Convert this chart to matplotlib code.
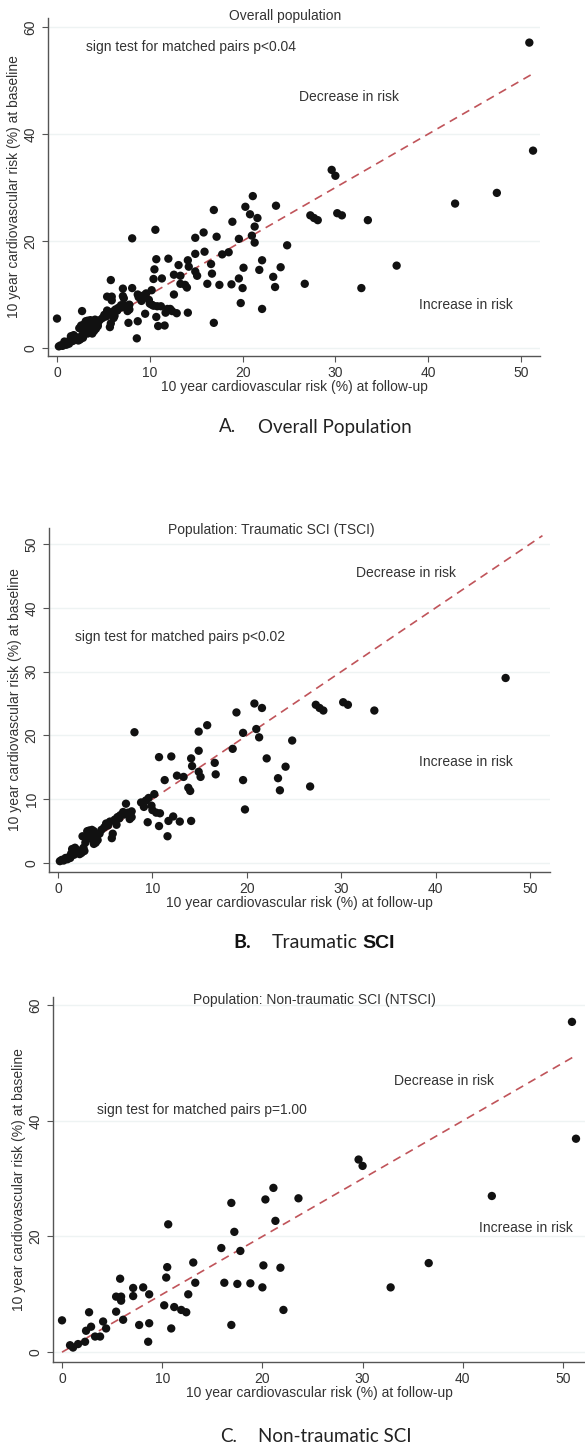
import numpy as np
import matplotlib
matplotlib.use("Agg")
import matplotlib.pyplot as plt

# traumatic SCI: (follow-up, baseline)
tsci_followup = [0.2, 0.4, 0.6, 0.8, 1.0, 1.2, 1.4, 1.5, 1.7, 1.9, 2.1, 2.3, 2.5, 2.7, 2.6, 2.9, 3.1, 3.3,
                 3.5, 3.6, 3.8, 4.0, 4.2, 4.4, 4.0,
                 1.3, 1.8, 2.2, 2.8, 3.0, 3.3, 3.8, 4.1, 4.6, 5.5, 6.2, 6.5, 7.0, 7.8, 8.8, 9.1,
                 4.9, 5.1, 5.3, 5.8, 5.7, 6.0, 6.3, 6.6, 6.9, 7.2, 7.4, 7.6, 7.8, 8.1,
                 9.3, 9.6, 9.9, 10.2, 10.0, 10.4, 10.8, 9.5, 10.7, 11.6, 11.7, 12.2, 12.9, 14.1, 10.7,
                 12.0, 11.3, 12.6, 13.3, 13.8, 14.0, 14.1, 14.2, 14.9, 15.8, 14.9, 14.9, 15.1, 16.6, 16.7,
                 18.5, 18.9, 19.6, 19.6, 19.8, 20.8, 21.6, 21.0, 21.3, 22.1, 23.3, 23.5, 24.1, 24.8, 26.7,
                 27.3, 27.7, 28.1, 30.2, 30.7, 33.5, 47.4]
tsci_baseline = [0.3, 0.5, 0.4, 0.8, 0.6, 1.0, 1.5, 2.2, 1.3, 1.8, 2.0, 1.4, 1.6, 2.4, 4.2, 3.2, 5.0, 4.6,
                 3.8, 5.2, 3.0, 4.2, 3.6, 4.6, 3.2,
                 0.8, 2.4, 1.6, 1.9, 4.2, 5.1, 5.0, 4.0, 5.2, 6.5, 6.0, 7.0, 7.6, 8.1, 9.5, 8.8,
                 5.6, 6.2, 5.9, 4.6, 3.9, 6.8, 7.2, 7.5, 8.0, 9.3, 7.9, 6.9, 7.2, 20.5,
                 9.8, 10.2, 9.0, 10.8, 8.3, 7.9, 7.8, 6.4, 5.8, 4.2, 6.6, 7.3, 6.5, 6.6, 16.6,
                 16.7, 13.0, 13.7, 13.5, 11.8, 11.3, 16.4, 15.2, 20.6, 21.6, 17.6, 14.3, 13.5, 15.7, 13.9,
                 17.9, 23.6, 20.4, 13.0, 8.4, 25.0, 24.3, 21.0, 19.7, 16.4, 13.3, 11.4, 15.1, 19.2, 12.0,
                 24.8, 24.3, 23.9, 25.2, 24.8, 23.9, 29.0]

# non-traumatic SCI
ntsci_followup = [0.0, 0.8, 1.1, 1.6, 2.3, 2.4, 2.7, 2.9, 3.3, 3.8, 4.1, 4.4, 5.4, 5.8, 5.9, 5.9, 5.4, 6.1,
                  7.1, 7.1, 8.1, 8.7, 7.7, 8.7, 8.6, 10.4, 10.5, 10.6, 10.2, 11.2, 11.9, 12.4, 10.9, 12.6,
                  13.1, 13.3, 15.9, 16.2, 16.9, 17.2, 16.9, 17.5, 17.8, 18.8, 20.0, 20.1, 20.3, 21.1, 21.3,
                  21.8, 22.1, 23.6, 29.6, 30.0, 32.8, 36.6, 42.9, 50.9, 51.3]
ntsci_baseline = [5.5, 1.2, 0.8, 1.4, 1.8, 3.7, 6.9, 4.4, 2.7, 2.7, 5.3, 4.1, 9.6, 12.7, 9.6, 8.9, 7.0, 5.6,
                  11.1, 9.7, 11.2, 10.0, 4.7, 5.0, 1.8, 12.9, 14.7, 22.1, 8.1, 7.8, 7.3, 6.9, 4.1, 10.0,
                  15.5, 12.0, 18.0, 12.0, 25.8, 20.8, 4.7, 11.8, 17.5, 11.9, 11.2, 15.0, 26.4, 28.4, 22.7,
                  14.6, 7.3, 26.6, 33.3, 32.2, 11.2, 15.4, 27.0, 57.1, 36.9]

all_followup = tsci_followup + ntsci_followup
all_baseline = tsci_baseline + ntsci_baseline

titles = ["Overall population", "Population: Traumatic SCI (TSCI)", "Population: Non-traumatic SCI (NTSCI)"]
notes = ["sign test for matched pairs p<0.04", "sign test for matched pairs p<0.02",
         "sign test for matched pairs p=1.00"]
xticks = [0, 10, 20, 30, 40, 50]
yticks_list = [[0, 20, 40, 60], [0, 10, 20, 30, 40, 50], [0, 20, 40, 60]]

W, H = 585, 1445
plt.rcParams['font.family'] = ['Liberation Sans', 'DejaVu Sans']
fig = plt.figure(figsize=(W / 100, H / 100), dpi=100)

dot = '#111111'
red = '#c0545a'
grey = '#555555'
txt = '#333333'

def box(l, r, t, b):
    return [l / W, 1 - b / H, (r - l) / W, (b - t) / H]

panels = [
    dict(rect=box(48, 540, 18, 356), x=all_followup, y=all_baseline, xlim=(-0.97, 52.05), ylim=(-1.5, 61.7),
         title=(285, 16), note=(86, 47), dec=(299, 97), inc=(419, 305)),
    dict(rect=box(49, 550, 528, 872), x=tsci_followup, y=tsci_baseline, xlim=(-0.95, 52.1), ylim=(-1.4, 52.5),
         title=(271, 530), note=(75, 637), dec=(356, 573), inc=(419, 762)),
    dict(rect=box(53, 585, 997, 1362), x=ntsci_followup, y=ntsci_baseline, xlim=(-0.9, 52.2), ylim=(-1.7, 61.4),
         title=(314, 1000), note=(97, 1110), dec=(394, 1081), inc=(479, 1228)),
]

line_end = max(all_followup)

for i, p in enumerate(panels):
    ax = fig.add_axes(p['rect'])
    ax.set_xlim(*p['xlim'])
    ax.set_ylim(*p['ylim'])
    ax.set_xticks(xticks)
    ax.set_yticks(yticks_list[i])
    for yt in yticks_list[i]:
        ax.axhline(yt, color='#eef3f3', lw=1, zorder=0)
    ax.plot([0, line_end], [0, line_end], color=red, lw=1.2, ls=(0, (5, 3.5)), zorder=2)
    ax.scatter(p['x'], p['y'], s=36, color=dot, edgecolors='none', zorder=3)
    for s in ['top', 'right']:
        ax.spines[s].set_visible(False)
    for s in ['left', 'bottom']:
        ax.spines[s].set_color(grey)
        ax.spines[s].set_linewidth(1)
    ax.tick_params(direction='out', length=4, color=grey, labelcolor=txt, labelsize=10)
    for lab in ax.get_yticklabels():
        lab.set_rotation(90)
        lab.set_va('center')
    ax.set_xlabel("10 year cardiovascular risk (%) at follow-up", fontsize=10, color=txt, labelpad=0)
    ax.set_ylabel("10 year cardiovascular risk (%) at baseline", fontsize=10, color=txt, labelpad=2)

    fig.text(p['title'][0] / W, 1 - p['title'][1] / H, titles[i], ha='center', va='center',
             fontsize=10, color=txt)
    fig.text(p['note'][0] / W, 1 - p['note'][1] / H, notes[i], ha='left', va='center',
             fontsize=10, color=txt)
    fig.text(p['dec'][0] / W, 1 - p['dec'][1] / H, "Decrease in risk", ha='left', va='center',
             fontsize=10, color=txt)
    fig.text(p['inc'][0] / W, 1 - p['inc'][1] / H, "Increase in risk", ha='left', va='center',
             fontsize=10, color=txt)

cap_font = ['Lato', 'DejaVu Sans']
fig.text(219 / W, 1 - 427 / H, "A.", fontsize=13.5, family=cap_font, color='#222222', va='center')
fig.text(258 / W, 1 - 427 / H, "Overall Population", fontsize=13.5, family=cap_font, color='#222222', va='center')
fig.text(233 / W, 1 - 943 / H, "B.", fontsize=14, family=cap_font, weight='bold', color='#111111', va='center')
fig.text(272 / W, 1 - 943 / H, "Traumatic", fontsize=14, family=cap_font, color='#222222', va='center')
fig.text(362 / W, 1 - 943 / H, "SCI", fontsize=14, family=['Liberation Sans'], weight='bold', color='#111111',
         va='center')
fig.text(220 / W, 1 - 1437 / H, "C.", fontsize=13.5, family=cap_font, color='#222222', va='center')
fig.text(258 / W, 1 - 1437 / H, "Non-traumatic SCI", fontsize=13.5, family=cap_font, color='#222222', va='center')

fig.savefig("out.png", dpi=100)
